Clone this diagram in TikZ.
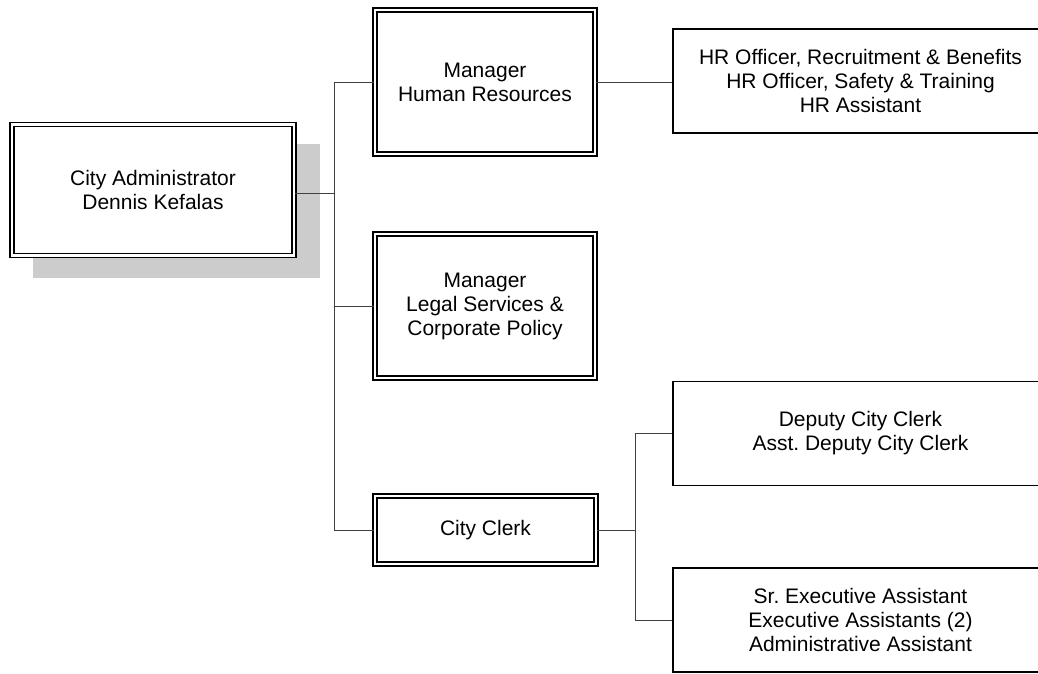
\documentclass[tikz,border=0pt]{standalone}
\usepackage{fontspec}
\setmainfont{Liberation Sans}
\frenchspacing
\begin{document}
\begin{tikzpicture}[x=1pt,y=-1pt,
  every node/.style={font=\fontsize{21}{24}\selectfont, align=center, inner sep=0pt},
  dbox/.style={draw=black, double=white, line width=1.6pt, double distance=2.4pt, fill=white, rectangle},
  sbox/.style={draw=black, line width=1.5pt, fill=white, rectangle},
  conn/.style={draw=black!75, line width=0.9pt}]
\useasboundingbox (0,0) rectangle (1038,673);
% shadow
\fill[black!20] (33,144) rectangle (320,278);
% nodes
\node[dbox, minimum width=282pt, minimum height=131pt] (admin) at (153,190) {City Administrator\\Dennis Kefalas};
\node[dbox, minimum width=220pt, minimum height=144pt] (hr) at (485,82) {Manager\\Human Resources};
\node[dbox, minimum width=220pt, minimum height=144pt] (legal) at (485,306) {Manager\\Legal Services \&\\Corporate Policy};
\node[dbox, minimum width=221pt, minimum height=68pt] (clerk) at (485.5,530) {City Clerk};
\node[sbox, minimum width=375pt, minimum height=104pt] (hrstaff) at (860.5,81) {HR Officer, Recruitment \& Benefits\\HR Officer, Safety \& Training\\HR Assistant};
\node[sbox, minimum width=375pt, minimum height=104pt] (deputy) at (860.5,433.5) {Deputy City Clerk\\Asst. Deputy City Clerk};
\node[sbox, minimum width=375pt, minimum height=104pt] (exec) at (860.5,620) {Sr. Executive Assistant\\Executive Assistants (2)\\Administrative Assistant};
% connector coordinates
\coordinate (busA) at (334,193);
\coordinate (busB) at (635,530);
% connectors
\draw[conn] ([yshift=-3pt]admin.east) -- (busA);
\draw[conn] (hr.west -| busA) -- (clerk.west -| busA);
\draw[conn] (hr.west -| busA) -- (hr.west);
\draw[conn] (legal.west -| busA) -- (legal.west);
\draw[conn] (clerk.west -| busA) -- (clerk.west);
\draw[conn] (hr.east) -- (hr.east -| hrstaff.west);
\draw[conn] (clerk.east) -- (busB);
\draw[conn] (deputy.west -| busB) -- (exec.west -| busB);
\draw[conn] (deputy.west -| busB) -- (deputy.west);
\draw[conn] (exec.west -| busB) -- (exec.west);
\end{tikzpicture}
\end{document}
